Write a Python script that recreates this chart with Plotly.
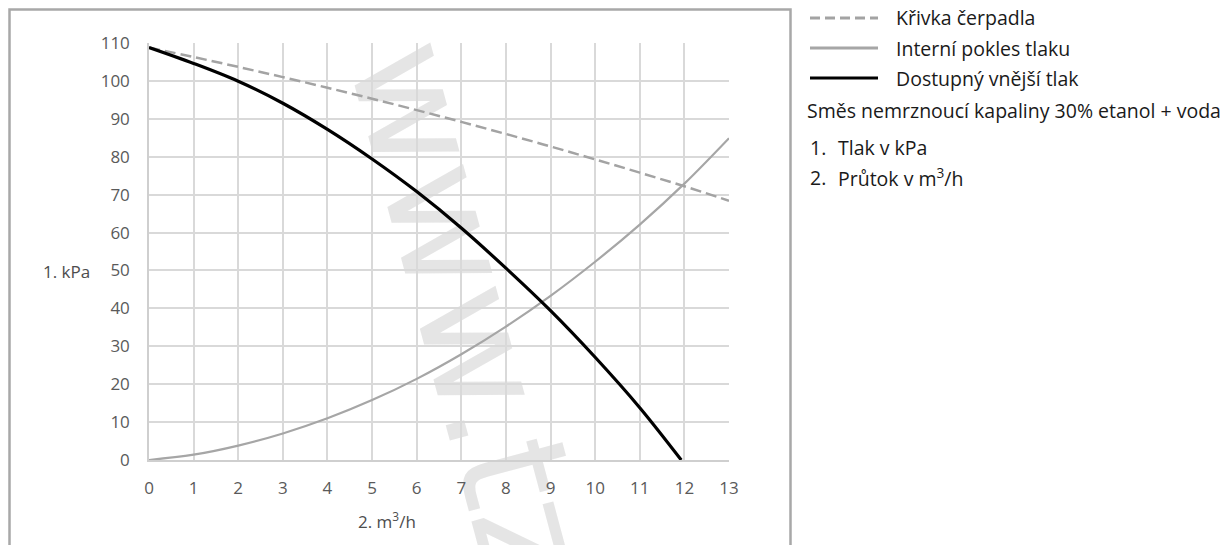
import plotly.graph_objects as go

# ---- data ----
flow = [0, 1, 2, 3, 4, 5, 6, 7, 8, 9, 10, 11, 12, 13]
pump_curve = [108.8, 106.3, 103.7, 101.0, 98.2, 95.3, 92.3, 89.2, 86.0, 82.7, 79.3, 75.8, 72.2, 68.4]
internal_drop = [0, 1.4, 3.8, 7.0, 11.0, 15.8, 21.4, 27.9, 35.2, 43.3, 52.3, 62.1, 72.9, 84.9]
flow_ext = [0, 1, 2, 3, 4, 5, 6, 7, 8, 9, 10, 11, 11.93]
external_pressure = [108.8, 104.6, 99.9, 94.1, 87.2, 79.4, 70.8, 61.2, 50.6, 39.4, 27.1, 13.8, 0]

x_ticks = list(range(0, 14))
y_ticks = list(range(0, 111, 10))

legend_names = ["Křivka čerpadla", "Interní pokles tlaku", "Dostupný vnější tlak"]
note_text = "Směs nemrznoucí kapaliny 30% etanol + voda"
note_items = [("1.", "Tlak v kPa"), ("2.", "Průtok v m<sup>3</sup>/h")]
y_title = "1. kPa"
x_title = "2. m<sup>3</sup>/h"
watermark = "www.tzb"

# page body has an 8px margin; layout positions below are given in screen pixels
OFF = 8
PW, PH = 580, 417
L, T = 149 - OFF, 43 - OFF
W, H = 1231 - OFF, 545 - OFF
R = W - L - PW
B = H - T - PH
FONT = "Open Sans"


def px(xp):
    return (xp - OFF - L) / PW


def py(yp):
    return (T + PH - (yp - OFF)) / PH


fig = go.Figure()
fig.add_trace(go.Scatter(x=flow, y=pump_curve, mode="lines", name=legend_names[0],
                         line=dict(color="#a3a3a3", width=2.5, dash="11px,5px", shape="spline")))
fig.add_trace(go.Scatter(x=flow, y=internal_drop, mode="lines", name=legend_names[1],
                         line=dict(color="#a6a6a6", width=2.2, shape="spline")))
fig.add_trace(go.Scatter(x=flow_ext, y=external_pressure, mode="lines", name=legend_names[2],
                         line=dict(color="#000000", width=3.2, shape="spline")))

grid = "#d9d9d9"
fig.update_xaxes(range=[0, 13], tickvals=x_ticks, showgrid=True, gridcolor=grid, gridwidth=1.5,
                 showline=True, linecolor="#cfcfcf", linewidth=1.5, zeroline=False,
                 ticks="", ticklabelstandoff=12,
                 tickfont=dict(family=FONT, size=17, color="#5a5a5a"))
fig.update_yaxes(range=[0, 110], tickvals=y_ticks, showgrid=True, gridcolor=grid, gridwidth=1.5,
                 showline=True, linecolor="#cfcfcf", linewidth=1.5, zeroline=False,
                 ticks="", ticklabelstandoff=14,
                 tickfont=dict(family=FONT, size=17, color="#5a5a5a"))

shapes = []
# watermark (drawn between grid and data)
wx, wy = 494, 356
shapes.append(dict(type="rect", xref="paper", yref="paper",
                   x0=px(wx - 1), x1=px(wx + 1), y0=py(wy + 1), y1=py(wy - 1),
                   line=dict(width=0), fillcolor="rgba(0,0,0,0)", layer="between",
                   label=dict(text=watermark, textangle=75, textposition="middle center",
                              font=dict(family="DejaVu Sans", size=154,
                                        color="rgba(160,160,160,0.28)"))))
# outer frame
shapes.append(dict(type="rect", xref="paper", yref="paper",
                   x0=px(9.5), x1=px(790.5), y0=py(600), y1=py(9.5),
                   line=dict(color="#a8a8a8", width=2.5), fillcolor="rgba(0,0,0,0)", layer="below"))
# manual legend lines
leg_y = [18, 48, 78]
leg_styles = [dict(color="#a3a3a3", width=3, dash="10px,5px"),
              dict(color="#a6a6a6", width=3),
              dict(color="#000000", width=3)]
for yy, st in zip(leg_y, leg_styles):
    shapes.append(dict(type="line", xref="paper", yref="paper",
                       x0=px(810), x1=px(878), y0=py(yy), y1=py(yy), line=st))

annotations = []
LEGF = dict(family=FONT, size=19.5, color="#1a1a1a")
for yy, name in zip(leg_y, legend_names):
    annotations.append(dict(x=px(894), y=py(yy), xref="paper", yref="paper", text=name,
                            showarrow=False, xanchor="left", yanchor="middle", font=LEGF))
annotations.append(dict(x=px(805), y=py(110), xref="paper", yref="paper", text=note_text,
                        showarrow=False, xanchor="left", yanchor="middle", font=LEGF))
for yy, (num, txt) in zip([147, 177], note_items):
    annotations.append(dict(x=px(808), y=py(yy), xref="paper", yref="paper", text=num,
                            showarrow=False, xanchor="left", yanchor="middle", font=LEGF))
    annotations.append(dict(x=px(836), y=py(yy), xref="paper", yref="paper", text=txt,
                            showarrow=False, xanchor="left", yanchor="middle", font=LEGF))
# axis titles
annotations.append(dict(x=px(66), y=py(271), xref="paper", yref="paper", text=y_title,
                        showarrow=False, xanchor="center", yanchor="middle",
                        font=dict(family=FONT, size=17, color="#4d4d4d")))
annotations.append(dict(x=px(387), y=py(520), xref="paper", yref="paper", text=x_title,
                        showarrow=False, xanchor="center", yanchor="middle",
                        font=dict(family=FONT, size=17, color="#4d4d4d")))

fig.update_layout(width=W, height=H, margin=dict(l=L, r=R, t=T, b=B),
                  plot_bgcolor="white", paper_bgcolor="white", showlegend=False,
                  shapes=shapes, annotations=annotations)

fig.write_html("out.html")
